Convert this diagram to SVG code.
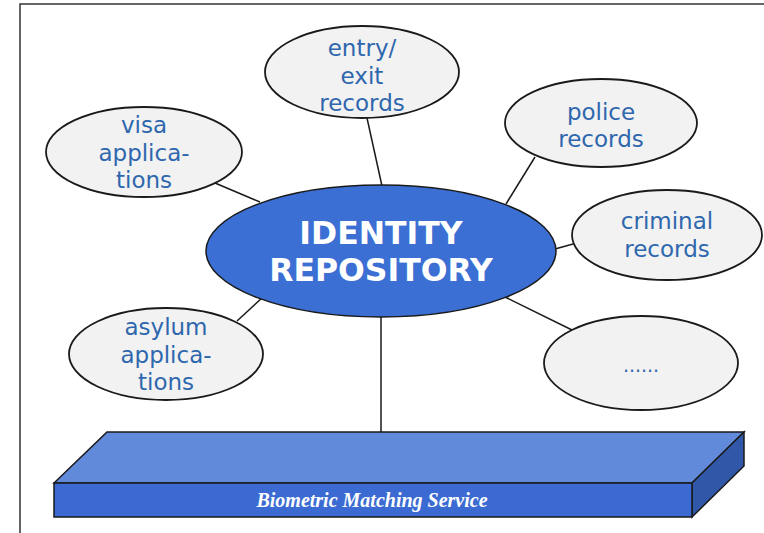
<svg xmlns="http://www.w3.org/2000/svg" width="764" height="533" viewBox="0 0 764 533">
<style>
.sat{fill:#f2f2f2;stroke:#1a1a1a;stroke-width:1.8}
.lbl{font-family:"DejaVu Sans",Verdana,sans-serif;font-size:23px;fill:#2e67ad;text-anchor:middle}
.con{stroke:#1a1a1a;stroke-width:1.5;fill:none}
.hub{font-family:"DejaVu Sans",Verdana,sans-serif;font-weight:bold;font-size:31.5px;fill:#ffffff;text-anchor:middle}
</style>
<rect width="764" height="533" fill="#ffffff"/>
<path d="M20,533 V4 H764" fill="none" stroke="#333" stroke-width="1.5"/>
<g id="connectors">
<line class="con" x1="215" y1="183" x2="260" y2="202"/>
<line class="con" x1="367" y1="118" x2="382" y2="186"/>
<line class="con" x1="535" y1="157" x2="506" y2="204"/>
<line class="con" x1="555" y1="249" x2="573" y2="244"/>
<line class="con" x1="237" y1="321" x2="263" y2="297"/>
<line class="con" x1="503" y1="296" x2="572" y2="330"/>
<line class="con" x1="381" y1="316" x2="381" y2="432"/>
</g>
<g id="entry">
<ellipse class="sat" cx="362" cy="72" rx="97" ry="46"/>
<text class="lbl" x="362" y="56">entry/</text>
<text class="lbl" x="362" y="84">exit</text>
<text class="lbl" x="362" y="111">records</text>
</g>
<g id="police">
<ellipse class="sat" cx="601" cy="123" rx="96" ry="44"/>
<text class="lbl" x="601" y="120">police</text>
<text class="lbl" x="601" y="147">records</text>
</g>
<g id="visa">
<ellipse class="sat" cx="144" cy="152" rx="98" ry="45"/>
<text class="lbl" x="144" y="133">visa</text>
<text class="lbl" x="144" y="161">applica-</text>
<text class="lbl" x="144" y="188">tions</text>
</g>
<g id="criminal">
<ellipse class="sat" cx="667" cy="235" rx="95" ry="45"/>
<text class="lbl" x="667" y="229">criminal</text>
<text class="lbl" x="667" y="257">records</text>
</g>
<g id="asylum">
<ellipse class="sat" cx="166" cy="354" rx="97" ry="46"/>
<text class="lbl" x="166" y="335">asylum</text>
<text class="lbl" x="166" y="363">applica-</text>
<text class="lbl" x="166" y="390">tions</text>
</g>
<g id="more">
<ellipse class="sat" cx="641" cy="363" rx="97" ry="47"/>
<text class="lbl" x="641" y="372" style="font-size:19px">......</text>
</g>
<g id="repository">
<ellipse cx="381" cy="251" rx="175" ry="66" fill="#3b6fd4" stroke="#1a1a1a" stroke-width="1.5"/>
<text class="hub" x="381" y="244">IDENTITY</text>
<text class="hub" x="381" y="281">REPOSITORY</text>
</g>
<g id="biometric">
<polygon points="54,483 107,432 744,432 692,483" fill="#628ada" stroke="#1a1a1a" stroke-width="1.5"/>
<polygon points="692,483 744,432 744,466 692,517" fill="#3158a8" stroke="#1a1a1a" stroke-width="1.5"/>
<rect x="54" y="483" width="638" height="34" fill="#3b6bd2" stroke="#1a1a1a" stroke-width="1.5"/>
<text x="372" y="507" font-family="'Liberation Serif','Times New Roman',serif" font-style="italic" font-weight="bold" font-size="20" fill="#ffffff" text-anchor="middle">Biometric Matching Service</text>
</g>
</svg>
